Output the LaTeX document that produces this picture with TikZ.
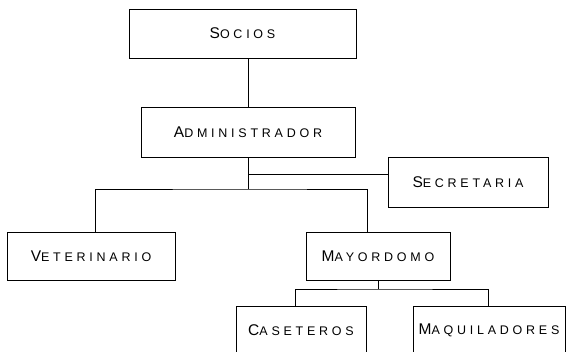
\documentclass[tikz,border=0pt]{standalone}
\usepackage{fontspec}
\setmainfont{Liberation Sans}[LetterSpace=30]
\usepackage{tikz}
\usetikzlibrary{positioning}

% first letter big, rest as small capitals
\newcommand{\orgname}[2]{{\fontsize{15.5}{15.5}\selectfont #1}{\fontsize{12.5}{12.5}\selectfont #2}}
\tikzstyle{box} = [draw, line width=0.7pt, inner sep=0pt, align=center]
\tikzstyle{line} = [line width=0.8pt]

\begin{document}
\begin{tikzpicture}[x=1pt, y=-1pt]
    \useasboundingbox (0,0) rectangle (567,351);
    \clip (0,0) rectangle (567,351);

    % cajas
    \node[box, minimum width=227, minimum height=49] (socios) at (242.5,33.5) {\orgname{S}{OCIOS}};
    \node[box, minimum width=214, minimum height=50] (admin) at (248,132) {\orgname{A}{DMINISTRADOR}};
    \node[box, minimum width=160, minimum height=50] (secre) at (468,182) {\orgname{S}{ECRETARIA}};
    \node[box, minimum width=168, minimum height=48] (vet) at (91,256) {\orgname{V}{ETERINARIO}};
    \node[box, minimum width=144, minimum height=48] (mayor) at (378,256) {\orgname{M}{AYORDOMO}};
    \node[box, minimum width=130, minimum height=49] (caset) at (301,330.5) {\orgname{C}{ASETEROS}};
    \node[box, minimum width=152, minimum height=49] (maqui) at (489,330.5) {\orgname{M}{AQUILADORES}};

    % puntos de union
    \coordinate (bus) at (248,189);
    \coordinate (tap) at (248,174);
    \coordinate (bus2) at (378,289);

    % lineas
    \draw[line] (socios.south -| admin.north) -- (admin.north);
    \draw[line] (admin.south) -- (bus);
    \draw[line] (tap) -- (tap -| secre.west);
    \draw[line] ([xshift=4pt]vet.north) |- (bus) -| ([xshift=-11pt]mayor.north);
    \draw[line] (mayor.south) -- (bus2);
    \draw[line] ([xshift=-6pt]caset.north) |- (bus2) -| ([xshift=-1pt]maqui.north);

\end{tikzpicture}
\end{document}
